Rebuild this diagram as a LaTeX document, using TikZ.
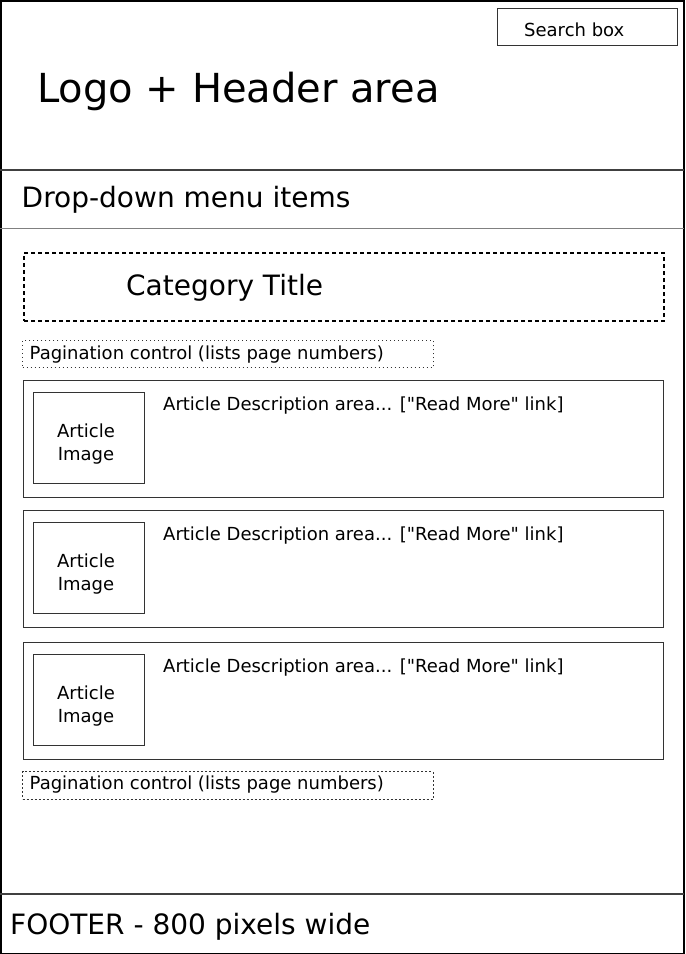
\documentclass[tikz,border=0pt]{standalone}
\usepackage{fontspec}
\setmainfont{DejaVu Sans}[Ligatures=TeXOff]
\usepackage{tikz}
\usetikzlibrary{calc}
\begin{document}
\begin{tikzpicture}[x=1pt,y=-1pt,
                 box/.style={draw=black!80,line width=1pt,inner sep=0pt},
                 txt/.style={anchor=base west,inner sep=0pt,font=\fontsize{18}{22}\selectfont},
                 big/.style={anchor=base west,inner sep=0pt,font=\fontsize{28}{34}\selectfont},
                 imgtxt/.style={align=center,inner sep=0pt,font=\fontsize{18}{23}\selectfont}]
                 \useasboundingbox(0,0)rectangle(686,954);
                 \draw[line width=1.5pt](0.75,0.75)rectangle(684,953.25);
                 \draw[black!75,line width=1.3pt](0,170)--(684,170);
                 \draw[black!50,line width=1pt](0,228.5)--(684,228.5);
                 \draw[black!75,line width=1.3pt](0,894)--(684,894);
                 % header
                 \node[box,minimum width=180pt,minimum height=37pt](search)at(587,26.5){};
                 \node[txt](searchtxt)at(524,36){Search box};
                 \node[anchor=base west,inner sep=0pt,font=\fontsize{40}{48}\selectfont](logo)at(37,102){Logo + Header area};
                 \node[big](menu)at(21.5,207){Drop-down menu items};
                 % category
                 \node[draw=black,line width=2pt,dash pattern=on 4pt off 3pt,inner sep=0pt,minimum width=640pt,minimum height=68pt](cat)at(344,287){};
                 \node[big](cattxt)at(126,295){Category Title};
                 \node[draw=black!80,line width=0.8pt,dash pattern=on 1pt off 3pt,inner sep=0pt,minimum width=410.5pt,minimum height=27pt](pag1)at(227.75,354.25){};
                 \node[txt](pag1txt)at(29.5,359){Pagination control (lists page numbers)};
                 % articles
                 \node[box,minimum width=640pt,minimum height=117pt](art1)at(343,438.5){};
                 \node[box,minimum width=111pt,minimum height=91pt](img1)at(88.75,437.75){};
                 \node[imgtxt](img1txt)at(86,444.5){Article\\Image};
                 \node[txt](desc1)at(163,410.5){Article Description area... ["Read More" link]};
                 \node[box,minimum width=640pt,minimum height=117pt](art2)at(343,568.5){};
                 \node[box,minimum width=111pt,minimum height=91pt](img2)at(88.75,567.75){};
                 \node[imgtxt](img2txt)at(86,574.5){Article\\Image};
                 \node[txt](desc2)at(163,540.5){Article Description area... ["Read More" link]};
                 \node[box,minimum width=640pt,minimum height=117pt](art3)at(343,700.5){};
                 \node[box,minimum width=111pt,minimum height=91pt](img3)at(88.75,699.75){};
                 \node[imgtxt](img3txt)at(86,706.5){Article\\Image};
                 \node[txt](desc3)at(163,672.5){Article Description area... ["Read More" link]};
                 \node[draw=black!80,line width=0.8pt,dash pattern=on 2pt off 2pt,inner sep=0pt,minimum width=410.5pt,minimum height=27.5pt](pag2)at(227.75,785.25){};
                 \node[txt](pag2txt)at(29.5,789.5){Pagination control (lists page numbers)};
                 % footer
                 \node[big](footer)at(10,934){FOOTER - 800 pixels wide};
               \end{tikzpicture}
\end{document}
